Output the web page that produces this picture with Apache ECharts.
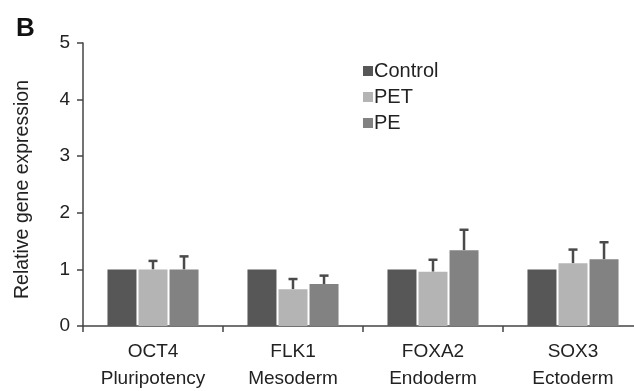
<!DOCTYPE html>
<html><head><meta charset="utf-8">
<script src="https://cdn.jsdelivr.net/npm/echarts@6/dist/echarts.min.js"></script>
<style>html,body{margin:0;padding:0;background:#fff}#c{width:634px;height:391px}</style>
</head><body><div id="c"></div>
<script>
const categories = ['OCT4\nPluripotency', 'FLK1\nMesoderm', 'FOXA2\nEndoderm', 'SOX3\nEctoderm'];
const seriesNames = ['Control', 'PET', 'PE'];
const controlValues = [1.0, 1.0, 1.0, 1.0];
const petValues = [1.0, 0.65, 0.96, 1.11];
const peValues = [1.0, 0.74, 1.34, 1.18];
const petErrTop = [1.15, 0.83, 1.17, 1.35];
const peErrTop = [1.23, 0.89, 1.70, 1.48];
const yTicks = [0, 1, 2, 3, 4, 5];

const colors = ['#575757', '#b4b4b4', '#828282'];
const BAR_W = 29, GAP_FR = 0.07;
const step = BAR_W * (1 + GAP_FR);

function errSeries(vals, tops, idx) {
  return {
    type: 'custom', z: 1,
    data: vals.map((v, i) => [i, v, tops[i]]),
    renderItem: function (params, api) {
      const x = api.value(0);
      const base = api.coord([x, api.value(1)]);
      const top = api.coord([x, api.value(2)]);
      const cx = base[0] + (idx - 1) * step;
      const capHalf = 4.5;
      return {
        type: 'group',
        children: [
          { type: 'line', shape: { x1: cx, y1: base[1], x2: cx, y2: top[1] }, style: { stroke: '#4a4a4a', lineWidth: 2.5 } },
          { type: 'line', shape: { x1: cx - capHalf, y1: top[1], x2: cx + capHalf, y2: top[1] }, style: { stroke: '#4a4a4a', lineWidth: 2.5 } }
        ]
      };
    }
  };
}

const chart = echarts.init(document.getElementById('c'));
chart.setOption({
  animation: false,
  textStyle: { fontFamily: 'Liberation Sans, Arial, sans-serif' },
  title: { text: 'B', left: 11, top: 11, textStyle: { fontFamily: 'Liberation Sans, Arial, sans-serif', fontSize: 26, fontWeight: 'bold', color: '#111' } },
  grid: { left: 83, right: -9, top: 43, bottom: 65, outerBoundsMode: 'none', containLabel: false },
  legend: {
    orient: 'vertical', left: 358, top: 56, itemWidth: 10, itemHeight: 10, itemGap: 6,
    icon: 'rect', data: seriesNames,
    textStyle: { fontSize: 20, color: '#222', padding: [0, 0, 0, -4] }
  },
  xAxis: {
    type: 'category', data: categories,
    axisLine: { lineStyle: { color: '#444', width: 1.5 } },
    axisTick: { show: true, length: 6, lineStyle: { color: '#444', width: 1.5 } },
    axisLabel: { fontSize: 19, color: '#222', lineHeight: 27, margin: 12 }
  },
  yAxis: {
    type: 'value', min: 0, max: 5, interval: 1,
    name: 'Relative gene expression', nameLocation: 'middle', nameGap: 50,
    nameTextStyle: { fontSize: 19.5, color: '#222', padding: [0, 0, 0, -10] },
    axisLine: { show: true, lineStyle: { color: '#444', width: 1.5 } },
    axisTick: { show: true, length: 6, lineStyle: { color: '#444', width: 1.5 } },
    axisLabel: { fontSize: 19, color: '#222', margin: 13, formatter: v => yTicks.includes(v) ? String(v) : '' },
    splitLine: { show: false }
  },
  series: [
    { name: 'Control', type: 'bar', data: controlValues, barWidth: BAR_W, barGap: (GAP_FR * 100) + '%', itemStyle: { color: colors[0] }, z: 2 },
    { name: 'PET', type: 'bar', data: petValues, barWidth: BAR_W, barGap: (GAP_FR * 100) + '%', itemStyle: { color: colors[1] }, z: 2 },
    { name: 'PE', type: 'bar', data: peValues, barWidth: BAR_W, barGap: (GAP_FR * 100) + '%', itemStyle: { color: colors[2] }, z: 2 },
    errSeries(petValues, petErrTop, 1),
    errSeries(peValues, peErrTop, 2)
  ]
});
</script></body></html>
